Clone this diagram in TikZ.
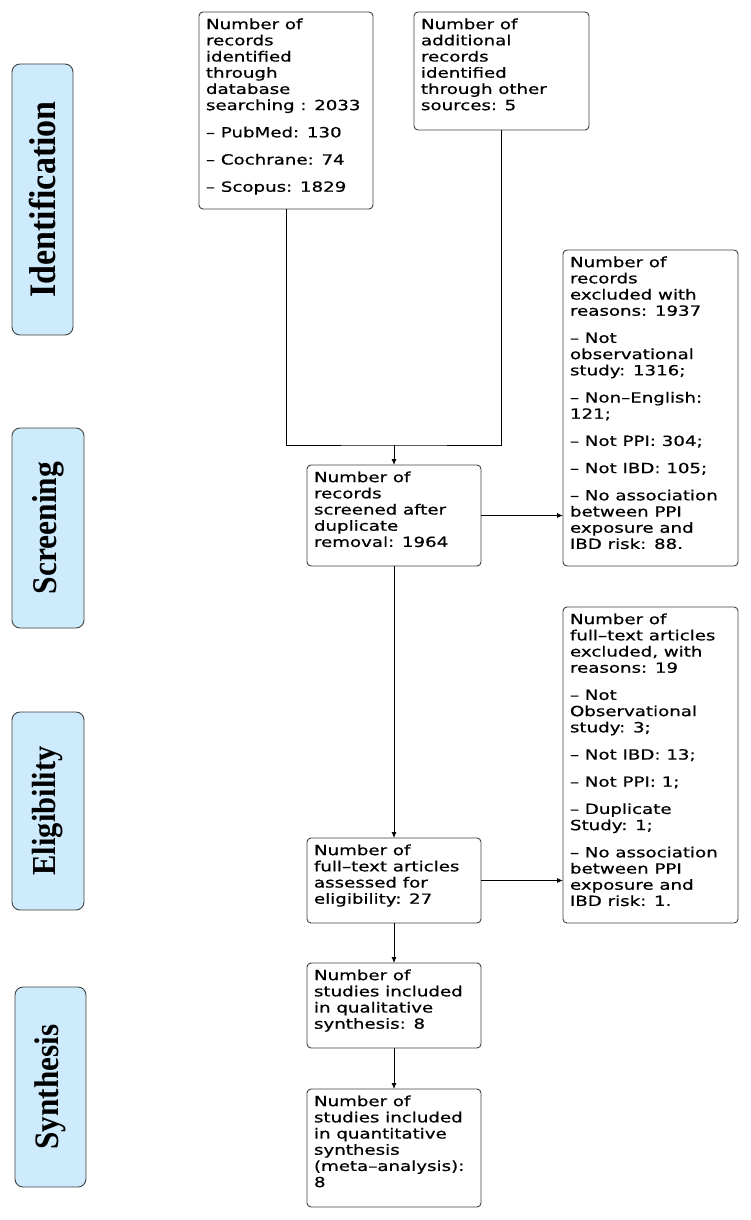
\documentclass[tikz,border=0pt]{standalone}
\usepackage{fontspec}
\usetikzlibrary{arrows.meta}
\newfontfamily\boxfont[FakeStretch=1.3,FakeBold=0.6]{DejaVu Sans}
\newfontfamily\phasefont{Liberation Serif}
\definecolor{phasefill}{HTML}{CDEBFD}
\definecolor{edgegray}{HTML}{404040}
\newcommand\boxtxt[3]{\parbox[c][#1][t]{#2}{\raggedright\vspace*{6.5pt}#3}}
\newcommand\phtxt[2]{\scalebox{1}[1.1]{\fontsize{#1}{#1}\selectfont\bfseries #2}}
\begin{document}
\begin{tikzpicture}[x=1pt,y=-1pt,
  stage/.style={draw=edgegray, line width=0.9pt, rounded corners=4pt, fill=white,
    inner xsep=7pt, inner ysep=0pt, outer sep=0pt, anchor=north west,
    font=\boxfont\fontsize{14}{16.2}\selectfont},
  phase/.style={draw=edgegray, line width=0.9pt, rounded corners=8pt, fill=phasefill,
    rotate=90, inner sep=0pt, font=\phasefont},
  conn/.style={draw=black, line width=0.9pt},
  arr/.style={conn, -{Latex[length=6pt,width=5pt]}}]
\useasboundingbox (0,0) rectangle (750,1220);

% phase labels
\node[phase, minimum width=271pt, minimum height=61pt] (p1) at (42.5,199.5) {\phtxt{34}{Identification}};
\node[phase, minimum width=200pt, minimum height=72pt] (p2) at (48,528) {\phtxt{31.5}{Screening}};
\node[phase, minimum width=198pt, minimum height=72pt] (p3) at (48,811) {\phtxt{30.5}{Eligibility}};
\node[phase, minimum width=200pt, minimum height=71pt] (p4) at (50.5,1087) {\phtxt{31.2}{Synthesis}};

% boxes
\node[stage] (A) at (199,12) {\boxtxt{197pt}{160pt}{Number of\\ records\\ identified\\ through\\ database\\ searching : 2033\\[11pt]
– PubMed: 130\\[11pt] – Cochrane: 74\\[11pt] – Scopus: 1829}};
\node[stage] (B) at (414,12) {\boxtxt{118pt}{161pt}{Number of\\ additional\\ records\\ identified\\ through other\\ sources: 5}};
\node[stage] (S) at (307,465) {\boxtxt{101pt}{160pt}{Number of\\ records\\ screened after\\ duplicate\\ removal: 1964}};
\node[stage] (E1) at (563,250) {\boxtxt{316pt}{161pt}{Number of\\ records\\ excluded with\\ reasons: 1937\\[11pt]
– Not\\ observational\\ study: 1316;\\[11pt]
– Non–English:\\ 121;\\[11pt]
– Not PPI: 304;\\[11pt]
– Not IBD: 105;\\[11pt]
– No association\\ between PPI\\ exposure and\\ IBD risk: 88.}};
\node[stage] (E2) at (563,607) {\boxtxt{316pt}{161pt}{Number of\\ full–text articles\\ excluded, with\\ reasons: 19\\[11pt]
– Not\\ Observational\\ study: 3;\\[11pt]
– Not IBD: 13;\\[11pt]
– Not PPI: 1;\\[11pt]
– Duplicate\\ Study: 1;\\[11pt]
– No association\\ between PPI\\ exposure and\\ IBD risk: 1.}};
\node[stage] (F) at (307,838) {\boxtxt{85pt}{160pt}{Number of\\ full–text articles\\ assessed for\\ eligibility: 27}};
\node[stage] (Q1) at (307,963) {\boxtxt{85pt}{160pt}{Number of\\ studies included\\ in qualitative\\ synthesis: 8}};
\node[stage] (Q2) at (307,1089) {\boxtxt{118pt}{160pt}{Number of\\ studies included\\ in quantitative\\ synthesis\\ (meta–analysis):\\ 8}};

% connectors
\coordinate (j) at (394,445);
\draw[conn] (A.south) |- (j) -| (B.south);
\draw[arr] (j) -- (S.north);
\draw[arr] (S.east) -- (S.east -| E1.west);
\draw[arr] (S.south) -- (F.north);
\draw[arr] (F.east) -- (F.east -| E2.west);
\draw[arr] (F.south) -- (Q1.north);
\draw[arr] (Q1.south) -- (Q2.north);
\end{tikzpicture}
\end{document}
